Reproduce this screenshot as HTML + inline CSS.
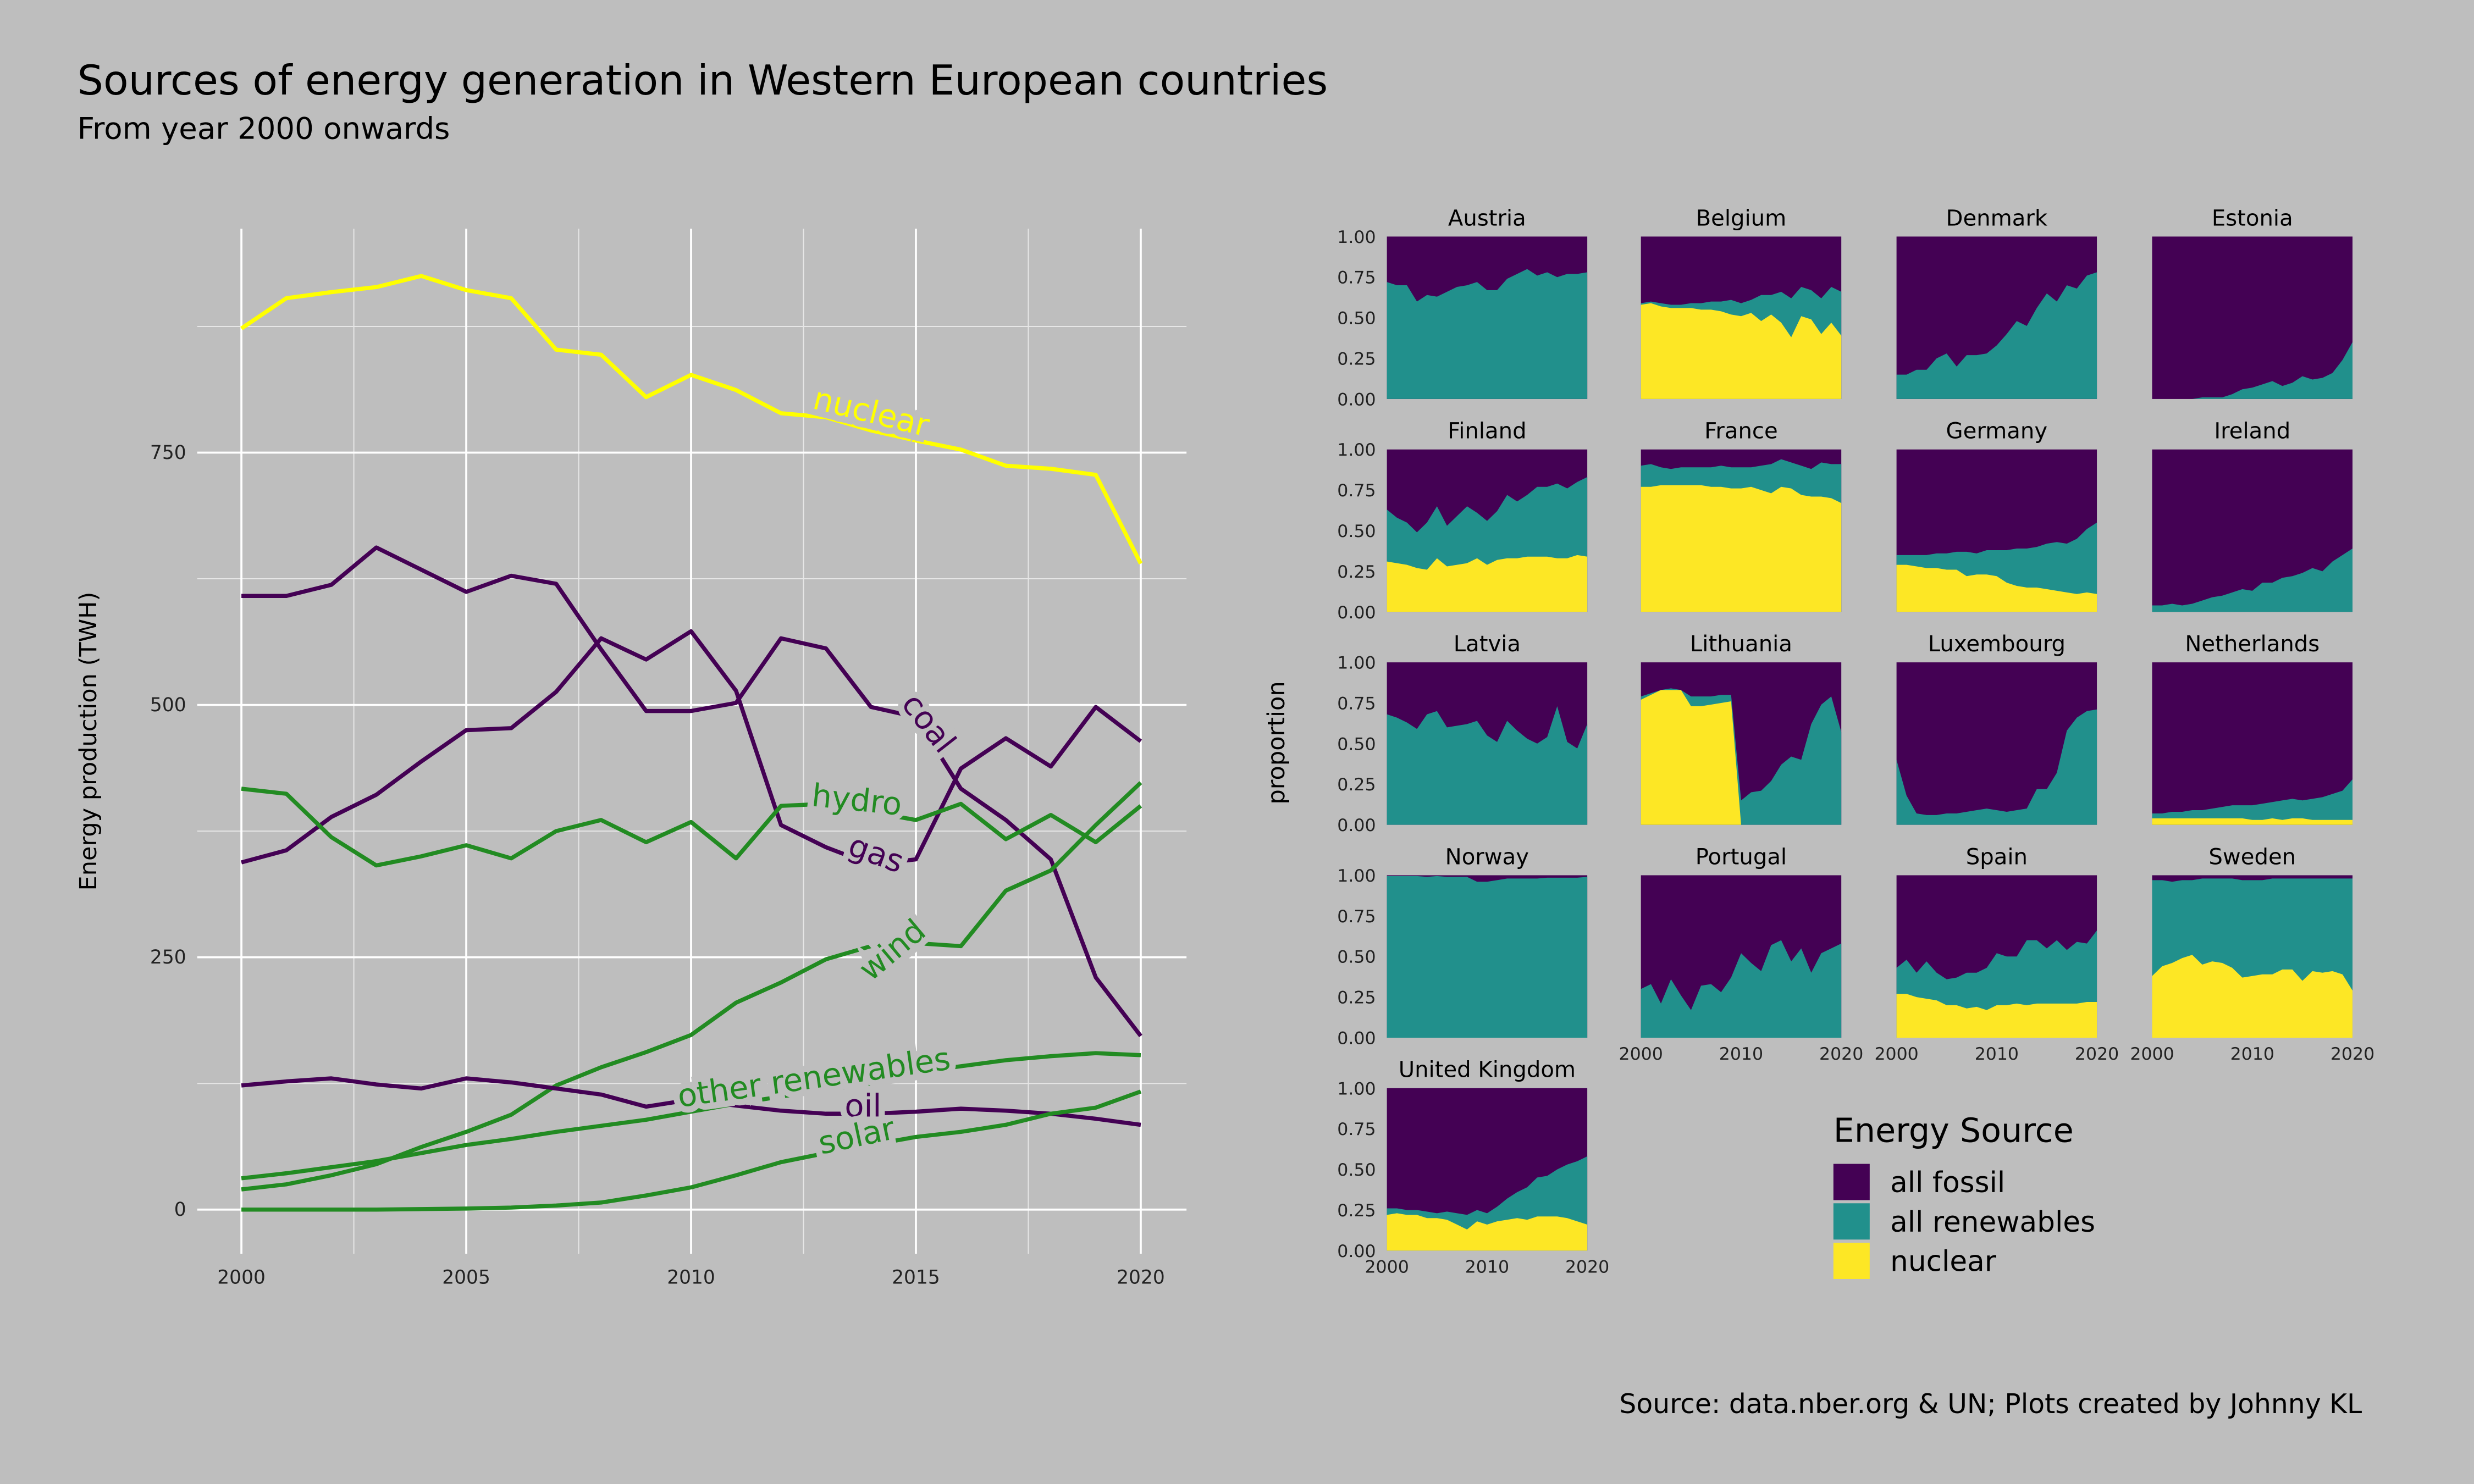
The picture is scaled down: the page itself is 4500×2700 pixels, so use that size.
<!DOCTYPE html>
<html><head><meta charset="utf-8"><style>
html,body{margin:0;padding:0;background:#bebebe;}
svg{display:block;font-family:"DejaVu Sans","Liberation Sans",sans-serif;}
</style></head><body>
<svg id="chart" width="4500" height="2700" viewBox="0 0 1568 941" preserveAspectRatio="none" xmlns="http://www.w3.org/2000/svg">
<rect width="1568" height="941" fill="#bebebe"/>
<text x="49" y="60" font-size="26" fill="#000">Sources of energy generation in Western European countries</text>
<text x="49" y="88" font-size="19" fill="#000">From year 2000 onwards</text>
<text x="1497" y="896" font-size="17" text-anchor="end" fill="#000">Source: data.nber.org &amp; UN; Plots created by Johnny KL</text>
<text transform="translate(61,470) rotate(-90)" font-size="15" text-anchor="middle">Energy production (TWH)</text>
<text transform="translate(814,471) rotate(-90)" font-size="15" text-anchor="middle">proportion</text>
<g id="main"></g>
<g id="facets"></g>
<g id="legend">
<text x="1162" y="724" font-size="21">Energy Source</text>
<rect x="1162" y="738" width="23" height="23" fill="#440154"/>
<text x="1198" y="756" font-size="18">all fossil</text>
<rect x="1162" y="763" width="23" height="23" fill="#21908C"/>
<text x="1198" y="781" font-size="18">all renewables</text>
<rect x="1162" y="788" width="23" height="23" fill="#FDE725"/>
<text x="1198" y="806" font-size="18">nuclear</text>
</g>
</svg>
<script>
const years=[2000,2001,2002,2003,2004,2005,2006,2007,2008,2009,2010,2011,2012,2013,2014,2015,2016,2017,2018,2019,2020];
const nuclear=[873,903,909,914,925,911,903,852,847,805,827,812,789,785,772,762,753,737,734,728,640];
const coal=[608,608,619,656,634,612,628,620,555,494,494,502,566,556,498,488,417,386,347,230,172];
const gas=[344,356,389,411,444,475,477,513,566,545,573,514,381,359,342,347,437,467,439,498,464];
const hydro=[417,412,369,341,350,361,348,375,386,364,384,348,400,402,394,386,402,367,391,364,400];
const wind=[20,25,34,45,62,77,94,123,141,156,173,205,225,248,261,264,261,316,336,381,423];
const otherRen=[31,36,42,48,56,64,70,77,83,89,97,105,112,119,125,136,142,148,152,155,153];
const solar=[0,0,0,0,0.5,1,2,4,7,14,22,34,47,56,64,72,77,84,95,101,117];
const oil=[123,127,130,124,120,130,126,120,114,102,109,103,98,95,95,97,100,98,95,90,84];
const yTicks=[0,250,500,750];
const xTicks=[2000,2005,2010,2015,2020];

const NS='http://www.w3.org/2000/svg';
function mk(tag,attrs,parent){const e=document.createElementNS(NS,tag);for(const k in attrs)e.setAttribute(k,attrs[k]);parent.appendChild(e);return e;}
const main=document.getElementById('main');
const X=y=>153+(y-2000)*28.5;
const Y=v=>767-v*0.64;
for(let v=125;v<=875;v+=250){const l=mk('line',{x1:125,x2:752,y1:Y(v),y2:Y(v),stroke:'#e6e6e6','stroke-width':0.7},main);}
for(let yr=2002.5;yr<2020;yr+=5){const l=mk('line',{x1:X(yr),x2:X(yr),y1:145,y2:795,stroke:'#e6e6e6','stroke-width':0.7},main);}
yTicks.forEach(v=>{const l=mk('line',{x1:125,x2:752,y1:Y(v),y2:Y(v),stroke:'#fff','stroke-width':1.3},main);
const t=mk('text',{x:118,y:Y(v)+4,'font-size':12,'text-anchor':'end',fill:'#222'},main);t.textContent=v;});
xTicks.forEach(v=>{const l=mk('line',{x1:X(v),x2:X(v),y1:145,y2:795,stroke:'#fff','stroke-width':1.3},main);
const t=mk('text',{x:X(v),y:814,'font-size':12,'text-anchor':'middle',fill:'#222'},main);t.textContent=v;});
const series=[
 ['nuclear',nuclear,'#ffff00',[552,268,14]],
 ['coal',coal,'#440154',[588,465,52]],
 ['gas',gas,'#440154',[555,548,20]],
 ['hydro',hydro,'#228B22',[543,514,6]],
 ['wind',wind,'#228B22',[566,609,-40]],
 ['other renewables',otherRen,'#228B22',[516,690,-8]],
 ['oil',oil,'#440154',[547,708,0]],
 ['solar',solar,'#228B22',[543,727,-12]]];
series.forEach(s=>{const d=s[1].map((v,i)=>(i?'L':'M')+X(years[i])+','+Y(v)).join('');
 const p=mk('path',{d:d,fill:'none',stroke:s[2],'stroke-width':2.6,'stroke-linejoin':'round'},main);
 });
series.forEach(s=>{const [lx,ly,r]=s[3];
 const t=mk('text',{x:lx,y:ly,'font-size':20,'text-anchor':'middle',fill:s[2],stroke:'#bebebe','stroke-width':8,'paint-order':'stroke','transform':`rotate(${r},${lx},${ly-6})`},main);
 t.textContent=s[0];});

const countries=['Austria','Belgium','Denmark','Estonia','Finland','France','Germany','Ireland','Latvia','Lithuania','Luxembourg','Netherlands','Norway','Portugal','Spain','Sweden','United Kingdom'];
const z=new Array(21).fill(0);
const nucShare={
Belgium:[0.58,0.59,0.57,0.56,0.56,0.56,0.55,0.55,0.54,0.52,0.51,0.53,0.48,0.52,0.47,0.38,0.51,0.49,0.40,0.47,0.39],
Finland:[0.31,0.30,0.29,0.27,0.26,0.33,0.28,0.29,0.30,0.33,0.29,0.32,0.33,0.33,0.34,0.34,0.34,0.33,0.33,0.35,0.34],
France:[0.77,0.77,0.78,0.78,0.78,0.78,0.78,0.77,0.77,0.76,0.76,0.77,0.75,0.73,0.77,0.76,0.72,0.71,0.71,0.70,0.67],
Germany:[0.29,0.29,0.28,0.27,0.27,0.26,0.26,0.22,0.23,0.23,0.22,0.18,0.16,0.15,0.15,0.14,0.13,0.12,0.11,0.12,0.11],
Lithuania:[0.77,0.80,0.83,0.83,0.83,0.73,0.73,0.74,0.75,0.76,0,0,0,0,0,0,0,0,0,0,0],
Netherlands:[0.04,0.04,0.04,0.04,0.04,0.04,0.04,0.04,0.04,0.04,0.03,0.03,0.04,0.03,0.04,0.04,0.03,0.03,0.03,0.03,0.03],
Spain:[0.27,0.27,0.25,0.24,0.23,0.20,0.20,0.18,0.19,0.17,0.20,0.20,0.21,0.20,0.21,0.21,0.21,0.21,0.21,0.22,0.22],
Sweden:[0.38,0.44,0.46,0.49,0.51,0.45,0.47,0.46,0.43,0.37,0.38,0.39,0.39,0.42,0.42,0.35,0.41,0.40,0.41,0.39,0.29],
'United Kingdom':[0.22,0.23,0.22,0.22,0.20,0.20,0.19,0.16,0.13,0.18,0.16,0.18,0.19,0.20,0.19,0.21,0.21,0.21,0.20,0.18,0.16]};
const nonFossilShare={
Austria:[0.72,0.70,0.70,0.60,0.64,0.63,0.66,0.69,0.70,0.72,0.67,0.67,0.74,0.77,0.80,0.76,0.78,0.75,0.77,0.77,0.78],
Belgium:[0.59,0.60,0.59,0.58,0.58,0.59,0.59,0.60,0.60,0.61,0.59,0.61,0.64,0.64,0.66,0.62,0.69,0.67,0.62,0.69,0.66],
Denmark:[0.15,0.15,0.18,0.18,0.25,0.28,0.20,0.27,0.27,0.28,0.33,0.40,0.48,0.45,0.56,0.65,0.60,0.70,0.68,0.76,0.78],
Estonia:[0,0,0,0,0,0.01,0.01,0.01,0.03,0.06,0.07,0.09,0.11,0.08,0.10,0.14,0.12,0.13,0.16,0.24,0.35],
Finland:[0.63,0.58,0.55,0.49,0.55,0.65,0.53,0.59,0.65,0.61,0.56,0.62,0.72,0.68,0.72,0.77,0.77,0.79,0.76,0.80,0.83],
France:[0.90,0.91,0.89,0.88,0.89,0.89,0.89,0.89,0.90,0.89,0.89,0.89,0.90,0.91,0.94,0.92,0.90,0.88,0.92,0.91,0.91],
Germany:[0.35,0.35,0.35,0.35,0.36,0.36,0.37,0.37,0.36,0.38,0.38,0.38,0.39,0.39,0.40,0.42,0.43,0.42,0.45,0.51,0.55],
Ireland:[0.04,0.04,0.05,0.04,0.05,0.07,0.09,0.10,0.12,0.14,0.13,0.18,0.18,0.21,0.22,0.24,0.27,0.25,0.31,0.35,0.39],
Latvia:[0.68,0.66,0.63,0.59,0.68,0.70,0.60,0.61,0.62,0.64,0.55,0.51,0.64,0.58,0.53,0.50,0.54,0.73,0.51,0.47,0.62],
Lithuania:[0.79,0.81,0.83,0.84,0.83,0.79,0.79,0.79,0.80,0.80,0.15,0.20,0.21,0.27,0.37,0.42,0.40,0.62,0.74,0.79,0.57],
Luxembourg:[0.40,0.18,0.07,0.06,0.06,0.07,0.07,0.08,0.09,0.10,0.09,0.08,0.09,0.10,0.22,0.22,0.32,0.58,0.66,0.70,0.71],
Netherlands:[0.07,0.07,0.08,0.08,0.09,0.09,0.10,0.11,0.12,0.12,0.12,0.13,0.14,0.15,0.16,0.15,0.16,0.17,0.19,0.21,0.28],
Norway:[0.995,0.995,0.995,0.995,0.99,0.995,0.99,0.99,0.99,0.96,0.96,0.97,0.98,0.98,0.98,0.98,0.985,0.985,0.985,0.985,0.99],
Portugal:[0.30,0.33,0.21,0.36,0.26,0.17,0.32,0.33,0.28,0.37,0.52,0.46,0.41,0.57,0.60,0.47,0.55,0.40,0.52,0.55,0.58],
Spain:[0.43,0.48,0.40,0.47,0.40,0.36,0.37,0.40,0.40,0.43,0.52,0.50,0.50,0.60,0.60,0.55,0.60,0.54,0.59,0.58,0.66],
Sweden:[0.97,0.97,0.96,0.97,0.97,0.98,0.98,0.98,0.98,0.97,0.97,0.97,0.98,0.98,0.98,0.98,0.98,0.98,0.98,0.98,0.98],
'United Kingdom':[0.26,0.26,0.25,0.25,0.24,0.23,0.24,0.23,0.22,0.25,0.23,0.27,0.32,0.36,0.39,0.45,0.46,0.50,0.53,0.55,0.58]};
const propTicks=['0.00','0.25','0.50','0.75','1.00'];
const facetXTicks=[2000,2010,2020];
const fg=document.getElementById('facets');
const colX=[879,1040,1202,1364],rowY=[150,285,420,555,690],PW=127,PH=103;
countries.forEach((c,idx)=>{const col=idx%4,row=Math.floor(idx/4);const x0=colX[col],y0=rowY[row];
 const g=mk('g',{},fg);
 const fx=i=>x0+(years[i]-2000)/20*PW, fy=v=>y0+PH-v*PH;
 const nuc=nucShare[c]||z, tot=nonFossilShare[c];
 const r=mk('rect',{x:x0,y:y0,width:PW,height:PH,fill:'#440154'},g);
 const area=(top,bot)=>{let d='M'+fx(0)+','+fy(top[0]);for(let i=1;i<21;i++)d+='L'+fx(i)+','+fy(top[i]);for(let i=20;i>=0;i--)d+='L'+fx(i)+','+fy(bot[i]);return d+'Z';};
 const a1=mk('path',{d:area(tot,z),fill:'#21908C'},g);
 const a2=mk('path',{d:area(nuc,z),fill:'#FDE725'},g);
 const st=mk('text',{x:x0+PW/2,y:y0-7,'font-size':14,'text-anchor':'middle'},g);st.textContent=c;
 if(col===0){propTicks.forEach((t,i)=>{const tt=mk('text',{x:x0-7,y:fy(i*0.25)+4,'font-size':11,'text-anchor':'end',fill:'#222'},g);tt.textContent=t;});}
 const bottom = idx>=13 || idx===16;
 if(bottom){facetXTicks.forEach(v=>{const tt=mk('text',{x:x0+(v-2000)/20*PW,y:y0+PH+14,'font-size':11,'text-anchor':'middle',fill:'#222'},g);tt.textContent=v;});}
});
</script>
</body></html>
